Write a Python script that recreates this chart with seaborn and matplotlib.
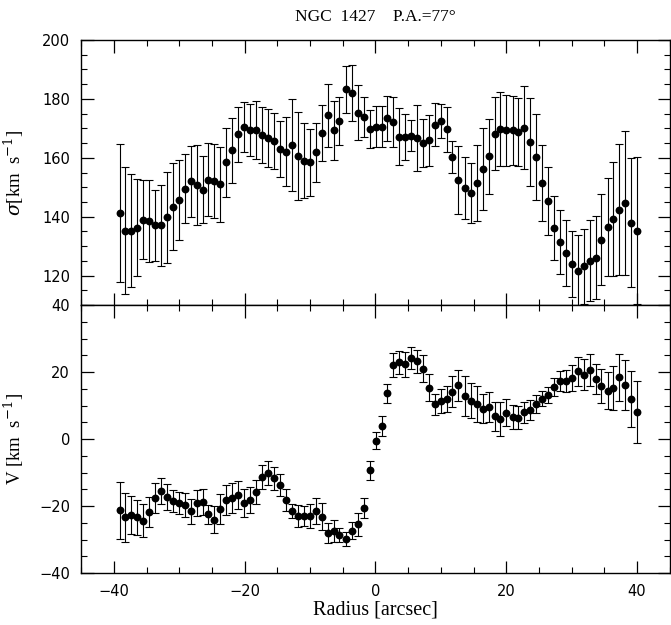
import numpy as np
import pandas as pd
import matplotlib
matplotlib.use("Agg")
import matplotlib.pyplot as plt
from matplotlib.ticker import MultipleLocator
import seaborn as sns

# radius of each measurement (arcsec), shared by both panels
radius = [-39.14, -38.23, -37.35, -36.44, -35.58, -34.66, -33.75, -32.87, -31.85, -30.93,
          -30.02, -29.13, -28.24, -27.32, -26.41, -25.54, -24.62, -23.70, -22.78, -21.87,
          -20.95, -20.03, -19.11, -18.20, -17.28, -16.41, -15.49, -14.57, -13.65, -12.74,
          -11.82, -10.90, -9.98, -9.07, -8.21, -7.29, -6.38, -5.50, -4.54, -3.62,
          -2.71, -1.79, -0.87, 0.03, 0.96, 1.82, 2.71, 3.64, 4.56, 5.47,
          6.39, 7.29, 8.21, 9.13, 10.05, 10.93, 11.77, 12.69, 13.73, 14.63,
          15.55, 16.44, 17.32, 18.24, 19.11, 20.03, 20.98, 21.85, 22.78, 23.70,
          24.62, 25.54, 26.45, 27.32, 28.21, 29.13, 30.02, 30.93, 31.85, 32.77,
          33.69, 34.56, 35.52, 36.39, 37.31, 38.18, 39.10, 40.02]

# velocity dispersion (km/s) and its error
sigma = [141.2, 135.3, 135.3, 136.3, 139.0, 138.5, 137.1, 137.1, 139.8, 143.4,
         145.8, 149.5, 152.0, 150.8, 149.2, 152.6, 152.1, 151.0, 158.4, 162.5,
         168.0, 170.6, 169.5, 169.5, 167.8, 166.7, 165.8, 163.1, 162.1, 164.4,
         160.5, 159.0, 158.4, 161.8, 168.4, 174.4, 169.3, 172.5, 183.3, 182.1,
         175.3, 173.7, 169.8, 170.6, 170.6, 173.4, 172.2, 167.2, 167.0, 167.5,
         166.7, 165.0, 165.9, 171.2, 172.5, 169.7, 160.2, 152.5, 149.7, 148.0,
         151.4, 156.2, 160.5, 168.2, 169.8, 169.3, 169.3, 168.7, 170.2, 165.4,
         160.2, 151.5, 145.3, 136.2, 131.4, 127.6, 124.0, 121.7, 123.2, 125.1,
         126.0, 132.2, 136.5, 139.1, 142.4, 144.6, 137.9, 135.3]
sigma_err = [23.4, 21.5, 19.3, 16.5, 13.4, 14.0, 12.0, 13.7, 15.5, 14.8,
             13.6, 11.7, 12.1, 13.6, 11.5, 12.3, 12.5, 12.8, 11.7, 10.9,
             9.4, 8.5, 8.8, 9.9, 9.6, 9.8, 9.5, 9.5, 11.7, 15.6,
             15.0, 12.7, 11.3, 10.1, 9.4, 10.8, 9.9, 8.3, 8.0, 9.5,
             9.3, 6.8, 6.4, 7.0, 6.9, 7.7, 8.6, 9.8, 7.9, 5.2,
             11.2, 8.1, 8.6, 7.3, 5.8, 7.7, 5.4, 11.5, 10.5, 10.1,
             12.8, 13.8, 12.7, 12.3, 12.5, 12.0, 11.6, 11.5, 14.1, 14.9,
             14.7, 12.9, 11.4, 10.8, 10.8, 11.1, 11.2, 12.1, 12.7, 13.6,
             14.1, 15.5, 16.8, 19.3, 22.3, 24.4, 21.9, 24.9]

# rotation velocity (km/s) and its error
vel = [-21.3, -23.3, -22.7, -23.3, -24.3, -21.8, -17.7, -15.5, -17.3, -18.4,
       -19.2, -19.7, -21.6, -19.1, -18.8, -22.4, -24.0, -20.9, -18.2, -17.7,
       -16.7, -19.1, -18.2, -15.8, -11.2, -10.1, -11.7, -13.7, -18.2, -21.5,
       -23.0, -23.0, -23.0, -21.5, -23.2, -28.0, -27.5, -28.7, -29.8, -27.3,
       -25.4, -20.6, -9.3, -0.5, 3.9, 13.6, 22.0, 22.9, 22.3, 24.2,
       23.2, 21.0, 15.3, 10.4, 11.3, 11.9, 14.1, 16.0, 12.9, 11.5,
       10.4, 9.0, 9.6, 6.8, 6.1, 7.9, 6.6, 6.4, 8.0, 8.8,
       10.4, 12.1, 13.2, 15.4, 17.4, 17.3, 18.2, 20.2, 19.2, 20.6,
       17.8, 15.9, 14.4, 15.3, 18.4, 16.1, 12.0, 8.0]
vel_err = [8.5, 7.3, 5.6, 5.2, 4.9, 4.5, 4.5, 4.0, 4.0, 3.3,
           3.3, 3.6, 3.8, 3.8, 3.9, 2.8, 3.9, 4.4, 4.6, 4.5,
           4.2, 4.3, 4.0, 3.6, 3.6, 3.7, 3.5, 3.3, 3.2, 2.2,
           3.2, 3.0, 3.6, 3.8, 4.0, 3.0, 3.3, 2.1, 2.2, 2.6,
           3.4, 3.1, 2.8, 2.6, 3.0, 2.7, 3.6, 3.5, 3.7, 3.3,
           3.5, 4.1, 4.0, 3.1, 3.5, 3.9, 4.6, 4.6, 5.9, 5.1,
           5.3, 4.3, 4.5, 4.4, 5.1, 4.1, 3.7, 3.5, 3.2, 3.0,
           2.7, 2.3, 2.4, 2.7, 3.0, 3.3, 3.8, 4.3, 4.6, 4.9,
           4.5, 5.1, 5.5, 6.5, 7.0, 7.4, 8.4, 9.2]

df = pd.DataFrame({"radius": radius, "sigma": sigma, "sigma_err": sigma_err,
                   "vel": vel, "vel_err": vel_err})

sns.set_style("ticks")
# sans for tick numbers, serif for the labels and title (set per text below)
plt.rcParams['font.family'] = ['DejaVu Sans']
plt.rcParams['mathtext.fontset'] = 'dejavuserif'
plt.rcParams['axes.linewidth'] = 1.0
plt.rcParams['text.color'] = 'black'
plt.rcParams['axes.labelcolor'] = 'black'
plt.rcParams['xtick.color'] = 'black'
plt.rcParams['ytick.color'] = 'black'
serif = ['Liberation Serif', 'DejaVu Serif']

fig = plt.figure(figsize=(6.71, 6.25), dpi=100)
ax1 = fig.add_axes([0.121, 0.512, 0.877, 0.424])
ax2 = fig.add_axes([0.121, 0.083, 0.877, 0.429], sharex=ax1)

for ax, col, err in [(ax1, "sigma", "sigma_err"), (ax2, "vel", "vel_err")]:
    ax.errorbar(df["radius"], df[col], yerr=df[err], fmt="none", ecolor="black",
                elinewidth=0.8, capsize=3, capthick=0.8, zorder=2)
    sns.scatterplot(data=df, x="radius", y=col, ax=ax, color="black", s=32,
                    edgecolor="black", linewidth=0, zorder=3)
    ax.set_xlim(-45, 45)
    ax.xaxis.set_major_locator(MultipleLocator(20))
    ax.xaxis.set_minor_locator(MultipleLocator(5))
    ax.yaxis.set_major_locator(MultipleLocator(20))
    ax.yaxis.set_minor_locator(MultipleLocator(5))
    ax.tick_params(which="both", direction="in", top=True, right=True,
                   labelsize=10.5, color="black", labelcolor="black", pad=8)
    ax.tick_params(which="major", length=9, width=0.9)
    ax.tick_params(which="minor", length=4.5, width=0.8)
    for s in ax.spines.values():
        s.set_color("black")

ax1.set_ylim(110, 200)
ax1.tick_params(labelbottom=False)
ax1.set_xlabel("")
ax1.set_ylabel(r"$\sigma$[km  s$^{-1}$]", fontsize=13.5, family=serif)
ax1.set_title("NGC  1427    P.A.=77°", fontsize=12.5, pad=14, family=serif)

ax2.set_ylim(-40, 40)
ax2.set_ylabel(r"V [km  s$^{-1}$]", fontsize=13.5, family=serif)
ax2.set_xlabel("Radius [arcsec]", fontsize=14.5, family=serif, labelpad=1)

ax1.yaxis.set_label_coords(-0.094, 0.5)
ax2.yaxis.set_label_coords(-0.094, 0.5)

fig.savefig("out.png", dpi=100)
